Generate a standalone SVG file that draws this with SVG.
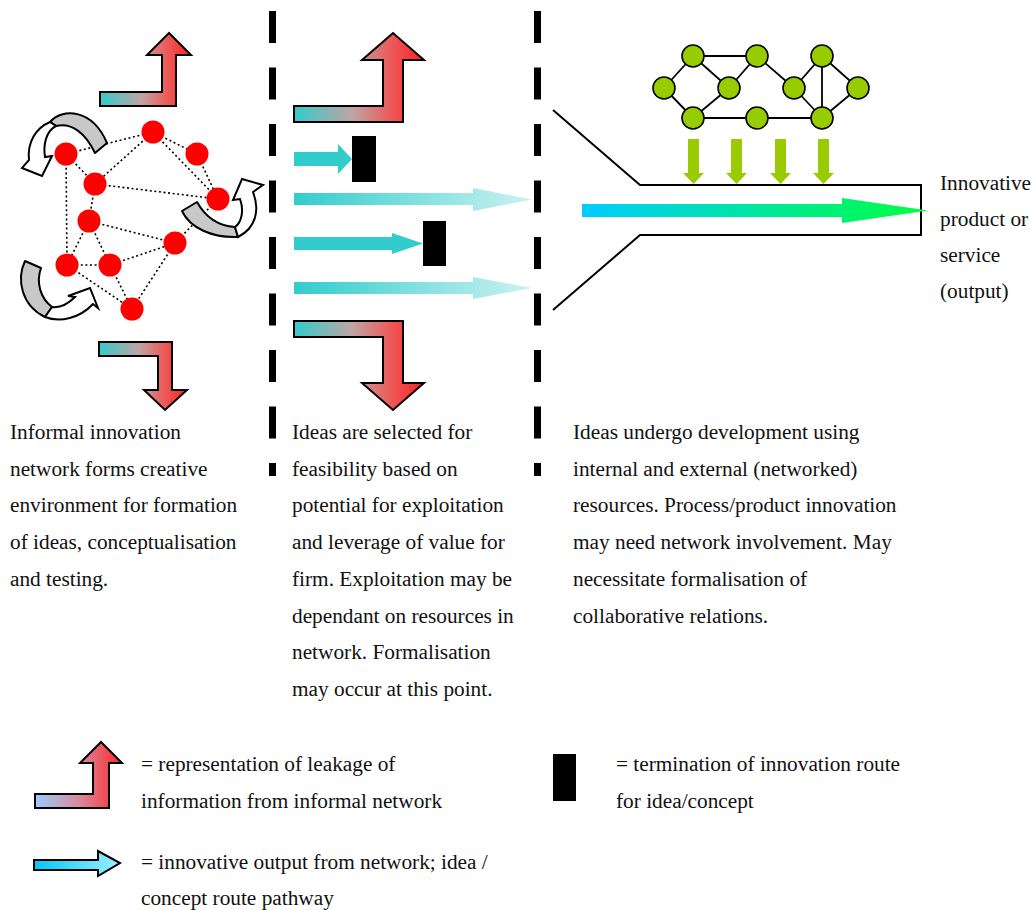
<svg xmlns="http://www.w3.org/2000/svg" width="1034" height="910" viewBox="0 0 1034 910">
  <defs>
    <linearGradient id="leak" x1="0" y1="0" x2="1" y2="0">
      <stop offset="0" stop-color="#33CCCC"/>
      <stop offset="0.45" stop-color="#C0A4A4"/>
      <stop offset="0.75" stop-color="#EE5858"/>
      <stop offset="1" stop-color="#FF2020"/>
    </linearGradient>
    <linearGradient id="leakKey" x1="0" y1="0" x2="1" y2="0">
      <stop offset="0" stop-color="#99CCFF"/>
      <stop offset="0.5" stop-color="#D88AA0"/>
      <stop offset="1" stop-color="#FF2A2A"/>
    </linearGradient>
    <linearGradient id="fade" x1="0" y1="0" x2="1" y2="0">
      <stop offset="0" stop-color="#33CCCC"/>
      <stop offset="1" stop-color="#CCF2F2"/>
    </linearGradient>
    <linearGradient id="output" x1="0" y1="0" x2="1" y2="0">
      <stop offset="0" stop-color="#00CCFF"/>
      <stop offset="1" stop-color="#00FF40"/>
    </linearGradient>
    <linearGradient id="routeKey" x1="0" y1="0" x2="1" y2="0">
      <stop offset="0" stop-color="#00C8F8"/>
      <stop offset="1" stop-color="#A0EEFF"/>
    </linearGradient>
  </defs>
  <style>
    text { font-family: "Liberation Serif", "Times New Roman", serif; font-size: 21.3px; fill: #111; }
    .divider { stroke: #000; stroke-width: 7; stroke-dasharray: 32 24.5; fill: none; }
    .dot { stroke: #000; stroke-width: 1.6; stroke-dasharray: 2 2.6; fill: none; }
    .red { fill: #FF0000; }
    .leak { fill: url(#leak); stroke: #000; stroke-width: 2; stroke-linejoin: miter; }
    .curl-back { fill: #C8C8C8; stroke: #000; stroke-width: 2; stroke-linejoin: round; }
    .curl-front { fill: #FFFFFF; stroke: #000; stroke-width: 2; stroke-linejoin: miter; }
    .route { fill: #33CCCC; }
    .stop { fill: #000; }
    .link { stroke: #000; stroke-width: 1.8; fill: none; }
    .green { fill: #99CC00; stroke: #000; stroke-width: 1.6; }
    .feed { fill: #99CC00; }
  </style>

  <!-- stage dividers -->
  <g id="dividers">
    <line class="divider" x1="272.5" y1="11" x2="272.5" y2="476"/>
    <line class="divider" x1="537.5" y1="11" x2="537.5" y2="476"/>
  </g>

  <!-- informal network: dotted links -->
  <g id="connectors">
    <g id="informal-links">
      <line class="dot" x1="66" y1="154" x2="153" y2="132"/>
      <line class="dot" x1="153" y1="132" x2="197" y2="154"/>
      <line class="dot" x1="153" y1="132" x2="95" y2="184"/>
      <line class="dot" x1="153" y1="132" x2="218" y2="199"/>
      <line class="dot" x1="197" y1="154" x2="218" y2="199"/>
      <line class="dot" x1="66" y1="154" x2="95" y2="184"/>
      <line class="dot" x1="66" y1="154" x2="67" y2="265"/>
      <line class="dot" x1="95" y1="184" x2="218" y2="199"/>
      <line class="dot" x1="95" y1="184" x2="89" y2="221"/>
      <line class="dot" x1="89" y1="221" x2="175" y2="243"/>
      <line class="dot" x1="89" y1="221" x2="67" y2="265"/>
      <line class="dot" x1="89" y1="221" x2="110" y2="265"/>
      <line class="dot" x1="67" y1="265" x2="110" y2="265"/>
      <line class="dot" x1="110" y1="265" x2="175" y2="243"/>
      <line class="dot" x1="175" y1="243" x2="132" y2="309"/>
      <line class="dot" x1="67" y1="265" x2="132" y2="309"/>
      <line class="dot" x1="110" y1="265" x2="132" y2="309"/>
      <line class="dot" x1="218" y1="199" x2="175" y2="243"/>
    </g>
    <!-- external network links -->
    <g id="external-links">
      <line class="link" x1="693" y1="56" x2="757" y2="56"/>
      <line class="link" x1="693" y1="56" x2="664" y2="88"/>
      <line class="link" x1="693" y1="56" x2="729" y2="88"/>
      <line class="link" x1="664" y1="88" x2="693" y2="118"/>
      <line class="link" x1="729" y1="88" x2="693" y2="118"/>
      <line class="link" x1="729" y1="88" x2="757" y2="56"/>
      <line class="link" x1="757" y1="56" x2="794" y2="88"/>
      <line class="link" x1="822" y1="56" x2="794" y2="88"/>
      <line class="link" x1="822" y1="56" x2="822" y2="118"/>
      <line class="link" x1="822" y1="56" x2="858" y2="88"/>
      <line class="link" x1="794" y1="88" x2="822" y2="118"/>
      <line class="link" x1="858" y1="88" x2="822" y2="118"/>
      <line class="link" x1="693" y1="118" x2="757" y2="118"/>
      <line class="link" x1="757" y1="118" x2="822" y2="118"/>
    </g>
  </g>

  <!-- informal network nodes -->
  <g id="informal-network">
    <circle id="n1" class="red" cx="66" cy="154" r="11.5"/>
    <circle id="n2" class="red" cx="153" cy="132" r="11.5"/>
    <circle id="n3" class="red" cx="197" cy="154" r="11.5"/>
    <circle id="n4" class="red" cx="95" cy="184" r="11.5"/>
    <circle id="n5" class="red" cx="218" cy="199" r="11.5"/>
    <circle id="n6" class="red" cx="89" cy="221" r="11.5"/>
    <circle id="n7" class="red" cx="175" cy="243" r="11.5"/>
    <circle id="n8" class="red" cx="67" cy="265" r="11.5"/>
    <circle id="n9" class="red" cx="110" cy="265" r="11.5"/>
    <circle id="n10" class="red" cx="132" cy="309" r="11.5"/>
  </g>

  <!-- circulating arrows around the informal network -->
  <g id="curl-top-left">
    <path class="curl-back" d="M50,122 C62,108 92,108 107,143 L95,153 C86,134 72,122 56,126 Z"/>
    <path class="curl-front" d="M50,122 C36,128 27,142 29,160 L22,168 L42,176 L52,156 L45,157 C43,145 46,131 56,126 Z"/>
  </g>
  <g id="curl-right">
    <path class="curl-back" d="M182,211 C190,228 212,238 238,237 L235,227 C218,226 206,218 197,202 Z"/>
    <path class="curl-front" d="M238,237 C256,228 260,210 253,192 L263,185 L242,179 L233,200 L240,199 C244,210 242,222 235,227 Z"/>
  </g>
  <g id="curl-bottom-left">
    <path class="curl-back" d="M25,261 C16,280 22,306 45,317 L52,307 C40,298 36,282 41,268 Z"/>
    <path class="curl-front" d="M45,317 C60,323 80,318 93,304 L98,308 L90,288 L68,296 L75,297 C68,304 60,308 52,307 Z"/>
  </g>

  <!-- information leakage arrows -->
  <g id="leak-left-top">
    <path class="leak" d="M100,92 L162,92 L162,55 L147,55 L169,33 L191,55 L176,55 L176,106 L100,106 Z"/>
  </g>
  <g id="leak-left-bottom">
    <path class="leak" d="M99,342 L172,342 L172,390 L187,390 L165,410 L144,390 L158,390 L158,356 L99,356 Z"/>
  </g>
  <g id="leak-mid-top">
    <path class="leak" d="M294,106 L383,106 L383,60 L362,60 L393,33 L424,60 L403,60 L403,122 L294,122 Z"/>
  </g>
  <g id="leak-mid-bottom">
    <path class="leak" d="M294,321 L403,321 L403,383 L424,383 L393,410 L362,383 L383,383 L383,337 L294,337 Z"/>
  </g>

  <!-- idea/concept routes through selection -->
  <g id="route-a">
    <path class="route" d="M294,152 L338,152 L338,144 L352,159 L338,174 L338,166 L294,166 Z"/>
    <rect class="stop" x="352" y="136" width="24" height="46"/>
  </g>
  <g id="route-b">
    <path fill="url(#fade)" d="M294,193 L473,193 L473,188 L532,199.5 L473,211 L473,205 L294,205 Z"/>
  </g>
  <g id="route-c">
    <path class="route" d="M294,237 L392,237 L392,233 L423,243.5 L392,254 L392,250 L294,250 Z"/>
    <rect class="stop" x="423" y="221" width="23" height="45"/>
  </g>
  <g id="route-d">
    <path fill="url(#fade)" d="M294,282 L473,282 L473,277 L532,288 L473,299 L473,294 L294,294 Z"/>
  </g>

  <!-- development channel -->
  <g id="channel">
    <path d="M553,110 L640,185 L921,185 L921,235 L640,235 L553,310" fill="none" stroke="#000" stroke-width="2"/>
  </g>
  <g id="output-arrow">
    <path fill="url(#output)" d="M582,204 L842,204 L842,198 L928,210.5 L842,223 L842,217 L582,217 Z"/>
  </g>

  <!-- external network resources -->
  <g id="external-network">
    <circle class="green" cx="693" cy="56" r="11"/>
    <circle class="green" cx="757" cy="56" r="11"/>
    <circle class="green" cx="822" cy="56" r="11"/>
    <circle class="green" cx="664" cy="88" r="11"/>
    <circle class="green" cx="729" cy="88" r="11"/>
    <circle class="green" cx="794" cy="88" r="11"/>
    <circle class="green" cx="858" cy="88" r="11"/>
    <circle class="green" cx="693" cy="118" r="11"/>
    <circle class="green" cx="757" cy="118" r="11"/>
    <circle class="green" cx="822" cy="118" r="11"/>
  </g>
  <g id="resource-feeds">
    <path class="feed" d="M688,139 L699,139 L699,173 L704,173 L693.5,184 L683,173 L688,173 Z"/>
    <path class="feed" d="M731,139 L742,139 L742,173 L747,173 L736.5,184 L726,173 L731,173 Z"/>
    <path class="feed" d="M775,139 L786,139 L786,173 L791,173 L780.5,184 L770,173 L775,173 Z"/>
    <path class="feed" d="M818,139 L829,139 L829,173 L834,173 L823.5,184 L813,173 L818,173 Z"/>
  </g>

  <!-- output label -->
  <g id="output-label">
    <text x="940" y="190">Innovative</text>
    <text x="940" y="226">product or</text>
    <text x="940" y="262">service</text>
    <text x="940" y="298">(output)</text>
  </g>

  <!-- stage descriptions -->
  <g id="stage-formation">
    <text x="10" y="439">Informal innovation</text>
    <text x="10" y="475.7">network forms creative</text>
    <text x="10" y="512.4">environment for formation</text>
    <text x="10" y="549.1">of ideas, conceptualisation</text>
    <text x="10" y="585.8">and testing.</text>
  </g>
  <g id="stage-selection">
    <text x="292" y="439">Ideas are selected for</text>
    <text x="292" y="475.7">feasibility based on</text>
    <text x="292" y="512.4">potential for exploitation</text>
    <text x="292" y="549.1">and leverage of value for</text>
    <text x="292" y="585.8">firm. Exploitation may be</text>
    <text x="292" y="622.5">dependant on resources in</text>
    <text x="292" y="659.2">network. Formalisation</text>
    <text x="292" y="695.9">may occur at this point.</text>
  </g>
  <g id="stage-development">
    <text x="573" y="439">Ideas undergo development using</text>
    <text x="573" y="475.7">internal and external (networked)</text>
    <text x="573" y="512.4">resources. Process/product innovation</text>
    <text x="573" y="549.1">may need network involvement. May</text>
    <text x="573" y="585.8">necessitate formalisation of</text>
    <text x="573" y="622.5">collaborative relations.</text>
  </g>

  <!-- key -->
  <g id="key-leakage">
    <path fill="url(#leakKey)" stroke="#000" stroke-width="2" d="M35,794 L93,794 L93,763 L80,763 L101,742 L122,763 L109,763 L109,808 L35,808 Z"/>
    <text x="141" y="771">= representation of leakage of</text>
    <text x="141" y="807.5">information from informal network</text>
  </g>
  <g id="key-route">
    <path fill="url(#routeKey)" stroke="#000" stroke-width="2" d="M34,860 L98,860 L98,851 L120,863 L98,876 L98,870 L34,870 Z"/>
    <text x="141" y="869">= innovative output from network; idea /</text>
    <text x="141" y="905">concept route pathway</text>
  </g>
  <g id="key-termination">
    <rect class="stop" x="553" y="754" width="23" height="47"/>
    <text x="616" y="771">= termination of innovation route</text>
    <text x="616" y="807.5">for idea/concept</text>
  </g>
</svg>
